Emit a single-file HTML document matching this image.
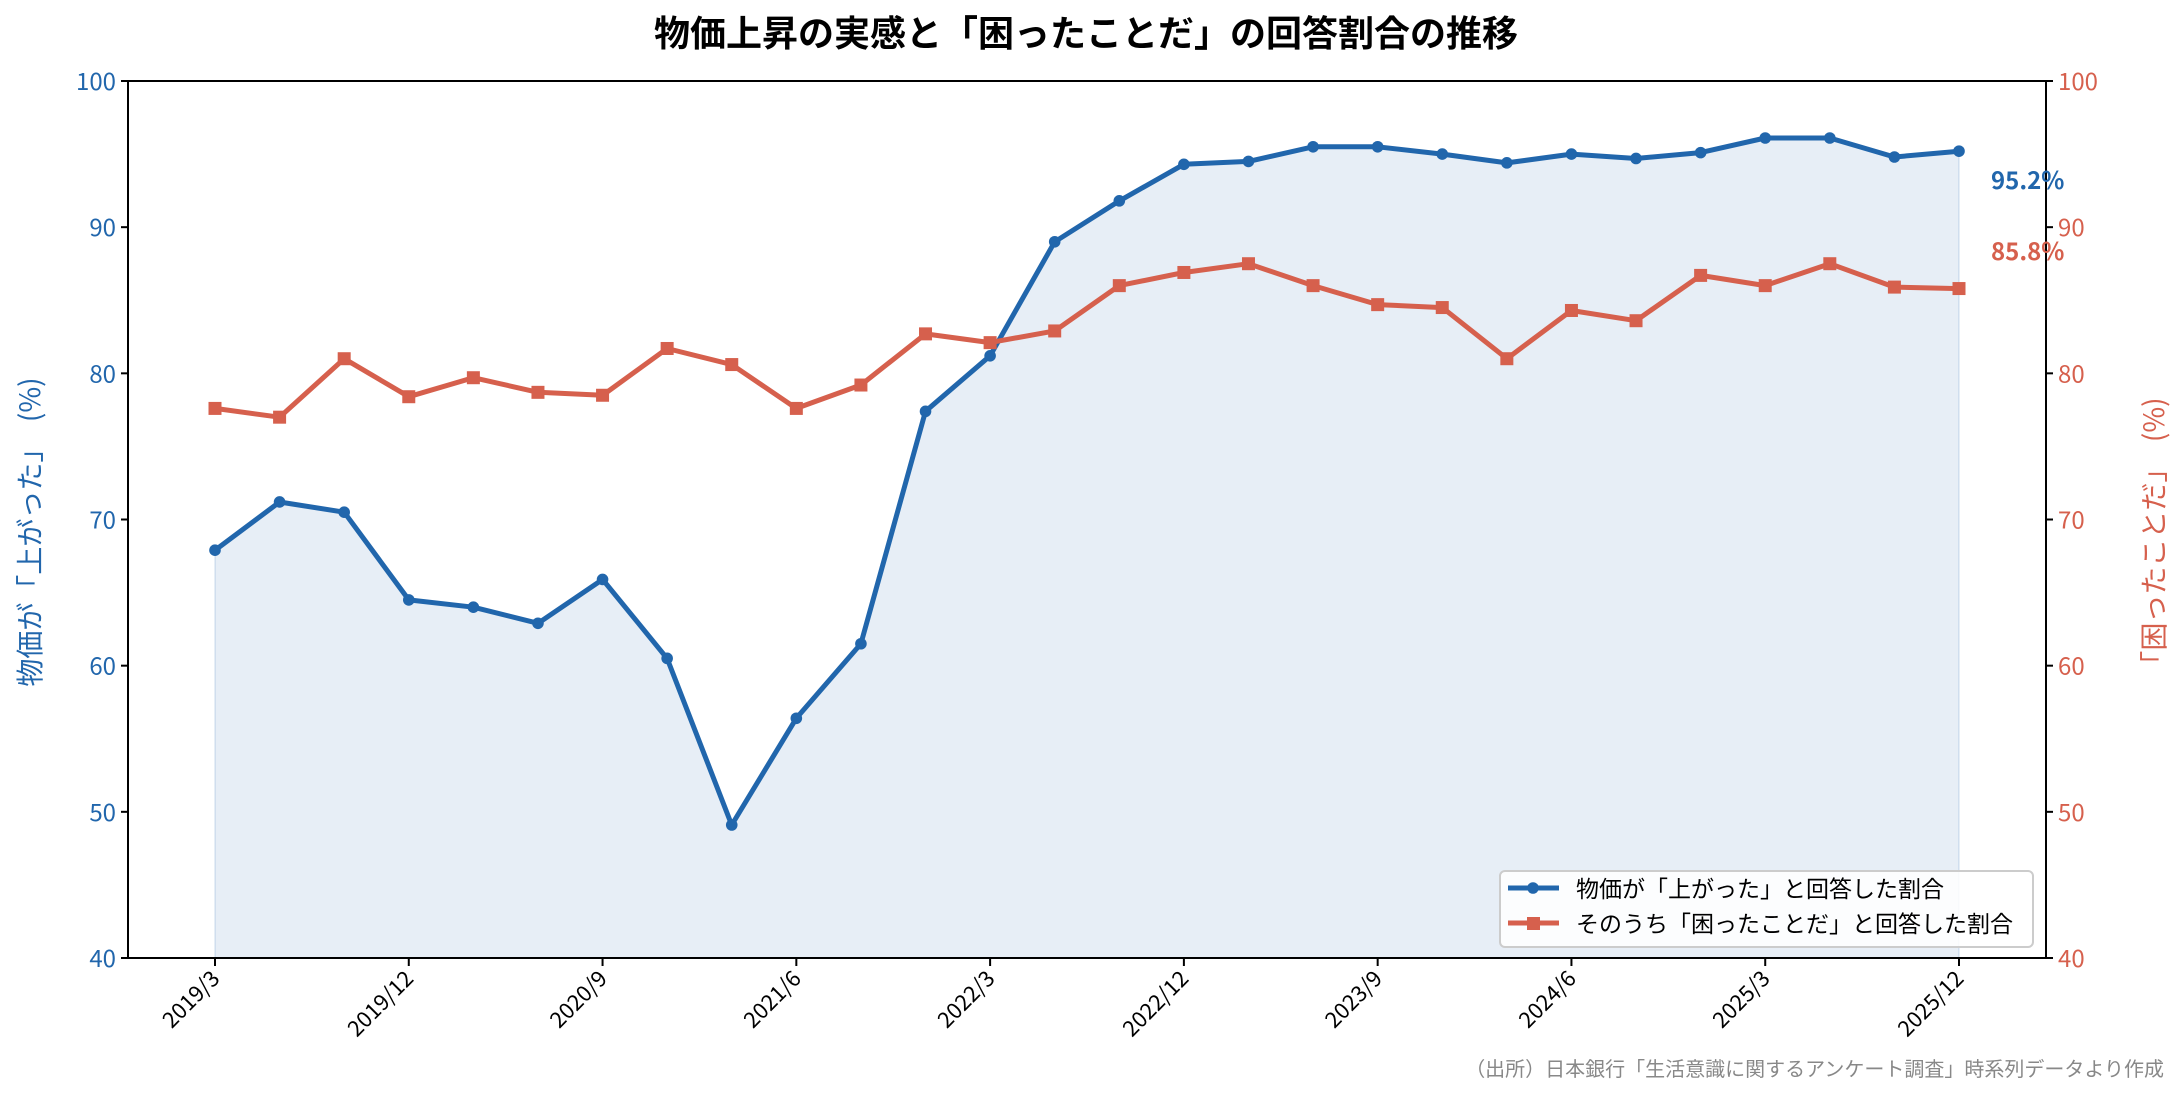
<!DOCTYPE html>
<html><head><meta charset="utf-8"><style>
html,body{margin:0;padding:0;background:#fff}
svg{display:block;font-family:"Noto Sans CJK JP","Liberation Sans",sans-serif}
</style></head><body>
<svg id="c" width="2184" height="1103" viewBox="0 0 2184 1103" xmlns="http://www.w3.org/2000/svg">
<text x="1086" y="46" text-anchor="middle" font-size="36" font-weight="bold" fill="#000">物価上昇の実感と「困ったことだ」の回答割合の推移</text>
<g id="plot"></g>
</svg>
<script>
const B=[67.9,71.2,70.5,64.5,64.0,62.9,65.9,60.5,49.1,56.4,61.5,77.4,81.2,89.0,91.8,94.3,94.5,95.5,95.5,95.0,94.4,95.0,94.7,95.1,96.1,96.1,94.8,95.2];
const R=[77.6,77.0,81.0,78.4,79.7,78.7,78.5,81.7,80.6,77.6,79.2,82.7,82.1,82.9,86.0,86.9,87.5,86.0,84.7,84.5,81.0,84.3,83.6,86.7,86.0,87.5,85.9,85.8];
const L=128,Rt=2046,T=81,Bt=958;
const X=i=>215+i*(1959-215)/27, Y=v=>Bt-(v-40)*(Bt-T)/60;
let s='';
let pts=B.map((v,i)=>X(i).toFixed(1)+','+Y(v).toFixed(1)).join(' ');
s+=`<polygon points="${X(0)},${Bt} ${pts} ${X(27)},${Bt}" fill="#2166ac" fill-opacity="0.11" stroke="#2166ac" stroke-opacity="0.15" stroke-width="1.5"/>`;
s+=`<polyline points="${pts}" fill="none" stroke="#2166ac" stroke-width="5" stroke-linejoin="round"/>`;
B.forEach((v,i)=>s+=`<circle cx="${X(i)}" cy="${Y(v)}" r="5.8" fill="#2166ac"/>`);
let pr=R.map((v,i)=>X(i).toFixed(1)+','+Y(v).toFixed(1)).join(' ');
s+=`<polyline points="${pr}" fill="none" stroke="#d6604d" stroke-width="5" stroke-linejoin="round"/>`;
R.forEach((v,i)=>s+=`<rect x="${X(i)-6.5}" y="${Y(v)-6.5}" width="13" height="13" fill="#d6604d"/>`);
s+=`<rect x="${L}" y="${T}" width="${Rt-L}" height="${Bt-T}" fill="none" stroke="#000" stroke-width="2"/>`;
for(let v=40;v<=100;v+=10){const y=Y(v);
 s+=`<line x1="${L-7}" y1="${y}" x2="${L}" y2="${y}" stroke="#000" stroke-width="2"/>`;
 s+=`<text x="${L-12}" y="${y+9}" text-anchor="end" font-size="24" fill="#2166ac">${v}</text>`;
 s+=`<line x1="${Rt}" y1="${y}" x2="${Rt+7}" y2="${y}" stroke="#000" stroke-width="2"/>`;
 s+=`<text x="${Rt+12}" y="${y+9}" font-size="24" fill="#d6604d">${v}</text>`;}
const lab=['2019/3','2019/12','2020/9','2021/6','2022/3','2022/12','2023/9','2024/6','2025/3','2025/12'];
lab.forEach((t,k)=>{const x=X(k*3);
 s+=`<line x1="${x}" y1="${Bt}" x2="${x}" y2="${Bt+8}" stroke="#000" stroke-width="2"/>`;
 s+=`<text transform="translate(${x+6},${Bt+22}) rotate(-45)" text-anchor="end" font-size="22" fill="#000">${t}</text>`;});
s+=`<text transform="translate(40,532) rotate(-90)" text-anchor="middle" font-size="28" fill="#2166ac" xml:space="preserve">物価が「上がった」  (%)</text>`;
s+=`<text transform="translate(2164,538) rotate(-90)" text-anchor="middle" font-size="28" fill="#d6604d" xml:space="preserve">「困ったことだ」  (%)</text>`;
s+=`<text x="1991" y="189" font-size="24" font-weight="bold" fill="#2166ac">95.2%</text>`;
s+=`<text x="1991" y="260" font-size="24" font-weight="bold" fill="#d6604d">85.8%</text>`;
s+=`<rect x="1500" y="871" width="533" height="76" rx="5" fill="#fff" fill-opacity="0.85" stroke="#ccc" stroke-width="2"/>`;
s+=`<line x1="1508" y1="888" x2="1559" y2="888" stroke="#2166ac" stroke-width="5"/><circle cx="1533" cy="888" r="5.8" fill="#2166ac"/>`;
s+=`<line x1="1508" y1="923" x2="1559" y2="923" stroke="#d6604d" stroke-width="5"/><rect x="1527" y="917" width="13" height="13" fill="#d6604d"/>`;
s+=`<text x="1576" y="897" font-size="23" fill="#000">物価が「上がった」と回答した割合</text>`;
s+=`<text x="1576" y="932" font-size="23" fill="#000">そのうち「困ったことだ」と回答した割合</text>`;
s+=`<text x="2164" y="1076" text-anchor="end" font-size="20" fill="#888">（出所）日本銀行「生活意識に関するアンケート調査」時系列データより作成</text>`;
document.getElementById('plot').innerHTML=s;
</script>
</body></html>
